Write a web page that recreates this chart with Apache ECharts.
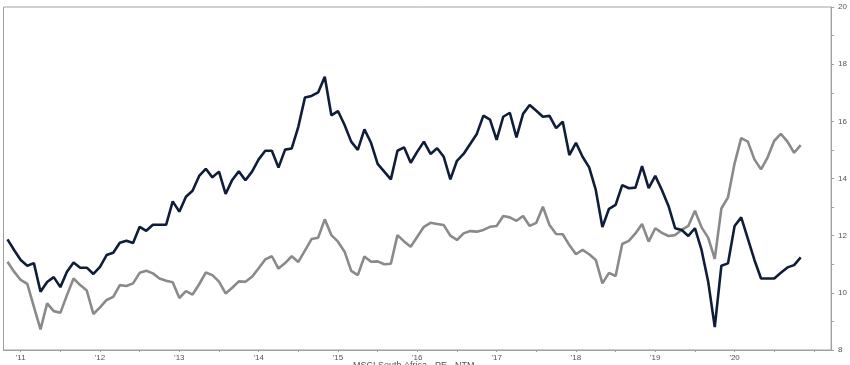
<!DOCTYPE html>
<html>
<head>
<meta charset="utf-8">
<script src="https://cdn.jsdelivr.net/npm/echarts@6/dist/echarts.min.js"></script>
<style>
  html, body { margin: 0; padding: 0; background: #ffffff; }
  #chart { width: 850px; height: 365px; }
</style>
</head>
<body>
<div id="chart"></div>
<script>
// Monthly data, Nov 2010 .. Nov 2020 (index 0 = Nov 2010)
const blackSeries = [
  11.87, 11.5, 11.15, 10.95, 11.04, 10.04, 10.38, 10.55, 10.2, 10.74,
  11.06, 10.88, 10.88, 10.66, 10.91, 11.32, 11.4, 11.75, 11.82, 11.74,
  12.31, 12.17, 12.38, 12.38, 12.38, 13.2, 12.84, 13.36, 13.57, 14.09,
  14.34, 14.04, 14.24, 13.46, 13.95, 14.25, 13.94, 14.24, 14.67, 14.97,
  14.97, 14.38, 15.01, 15.05, 15.81, 16.83, 16.89, 17.01, 17.56, 16.21,
  16.36, 15.87, 15.29, 15.0, 15.72, 15.25, 14.51, 14.24, 13.97, 14.97,
  15.09, 14.55, 14.94, 15.29, 14.86, 15.06, 14.76, 13.97, 14.62, 14.86,
  15.21, 15.56, 16.2, 16.06, 15.35, 16.16, 16.3, 15.44, 16.26, 16.57,
  16.37, 16.16, 16.19, 15.76, 15.99, 14.82, 15.25, 14.76, 14.39, 13.6,
  12.3, 12.94, 13.08, 13.77, 13.66, 13.68, 14.43, 13.66, 14.09, 13.6,
  13.04, 12.26, 12.2, 11.99, 12.26, 11.5, 10.4, 8.8, 10.95, 11.03,
  12.34, 12.64, 11.9, 11.15, 10.5, 10.5, 10.5, 10.7, 10.89, 10.97,
  11.24
];
const greySeries = [
  11.09, 10.74, 10.45, 10.31, 9.51, 8.72, 9.63, 9.36, 9.3, 9.92,
  10.5, 10.27, 10.08, 9.26, 9.49, 9.75, 9.86, 10.27, 10.24, 10.33,
  10.7, 10.77, 10.68, 10.5, 10.42, 10.37, 9.82, 10.06, 9.94, 10.3,
  10.71, 10.62, 10.39, 9.98, 10.18, 10.4, 10.39, 10.56, 10.86, 11.17,
  11.28, 10.85, 11.04, 11.28, 11.08, 11.48, 11.88, 11.93, 12.57, 12.02,
  11.79, 11.44, 10.77, 10.62, 11.27, 11.09, 11.1, 11.0, 11.02, 12.02,
  11.8, 11.61, 11.96, 12.31, 12.45, 12.41, 12.37, 12.0, 11.85, 12.08,
  12.16, 12.14, 12.2, 12.31, 12.34, 12.69, 12.64, 12.52, 12.69, 12.34,
  12.45, 13.01, 12.37, 12.06, 12.05, 11.67, 11.35, 11.5, 11.35, 11.15,
  10.33, 10.7, 10.59, 11.71, 11.82, 12.08, 12.41, 11.79, 12.26, 12.1,
  11.99, 12.02, 12.2, 12.34, 12.87, 12.29, 11.93, 11.19, 12.95, 13.34,
  14.53, 15.41, 15.29, 14.67, 14.32, 14.74, 15.32, 15.56, 15.29, 14.9,
  15.17
];
// Year tick labels, each placed at January of that year
const yearLabels = ["'11", "'12", "'13", "'14", "'15", "'16", "'17", "'18", "'19", "'20"];
const janIndex = [2, 14, 26, 38, 50, 62, 74, 86, 98, 110];
const halfYearTicks = [2, 8, 14, 20, 26, 32, 38, 44, 50, 56, 62, 68, 74, 80, 86, 92, 98, 104, 110, 116, 122];
const legendText = 'MSCI South Africa - PE - NTM';

const toPairs = arr => arr.map((v, i) => [i, v]);

const chart = echarts.init(document.getElementById('chart'), null, { renderer: 'canvas' });
chart.setOption({
  animation: false,
  backgroundColor: '#ffffff',
  grid: {
    left: 3.5, right: 18, top: 7, bottom: 15,
    show: true, borderColor: '#a0a0a0', borderWidth: 1, backgroundColor: 'transparent'
  },
  xAxis: {
    type: 'value',
    min: -0.6, max: 124.6,
    axisLine: { show: true, onZero: false, lineStyle: { color: '#a0a0a0', width: 1 } },
    axisTick: { show: true, inside: false, customValues: halfYearTicks, length: 2, lineStyle: { color: '#a0a0a0' } },
    axisLabel: {
      customValues: janIndex,
      formatter: v => yearLabels[janIndex.indexOf(Math.round(v))] || '',
      fontSize: 8, color: '#555', margin: 4, fontFamily: 'Liberation Sans'
    },
    splitLine: { show: false }
  },
  yAxis: {
    type: 'value',
    position: 'right',
    min: 8, max: 20, interval: 1,
    axisLine: { show: true, onZero: false, lineStyle: { color: '#a0a0a0', width: 1 } },
    axisTick: { show: true, inside: false, length: 3, lineStyle: { color: '#a0a0a0' } },
    minorTick: { show: false },
    axisLabel: {
      formatter: v => (v % 2 === 0 ? String(v) : ''),
      fontSize: 8, color: '#555', margin: 7, fontFamily: 'Liberation Sans'
    },
    splitLine: { show: false },
    splitArea: { show: false }
  },
  graphic: [{
    type: 'text', left: 353, top: 361,
    style: { text: legendText, fontSize: 9, fill: '#555', fontFamily: 'Liberation Sans' }
  }],
  series: [
    {
      name: 'grey', type: 'line', data: toPairs(greySeries), showSymbol: false, symbol: 'none',
      lineStyle: { color: '#8a8a8a', width: 2.6 }, z: 2
    },
    {
      name: 'navy', type: 'line', data: toPairs(blackSeries), showSymbol: false, symbol: 'none',
      lineStyle: { color: '#101d38', width: 2.6 }, z: 3
    }
  ]
});
</script>
</body>
</html>
